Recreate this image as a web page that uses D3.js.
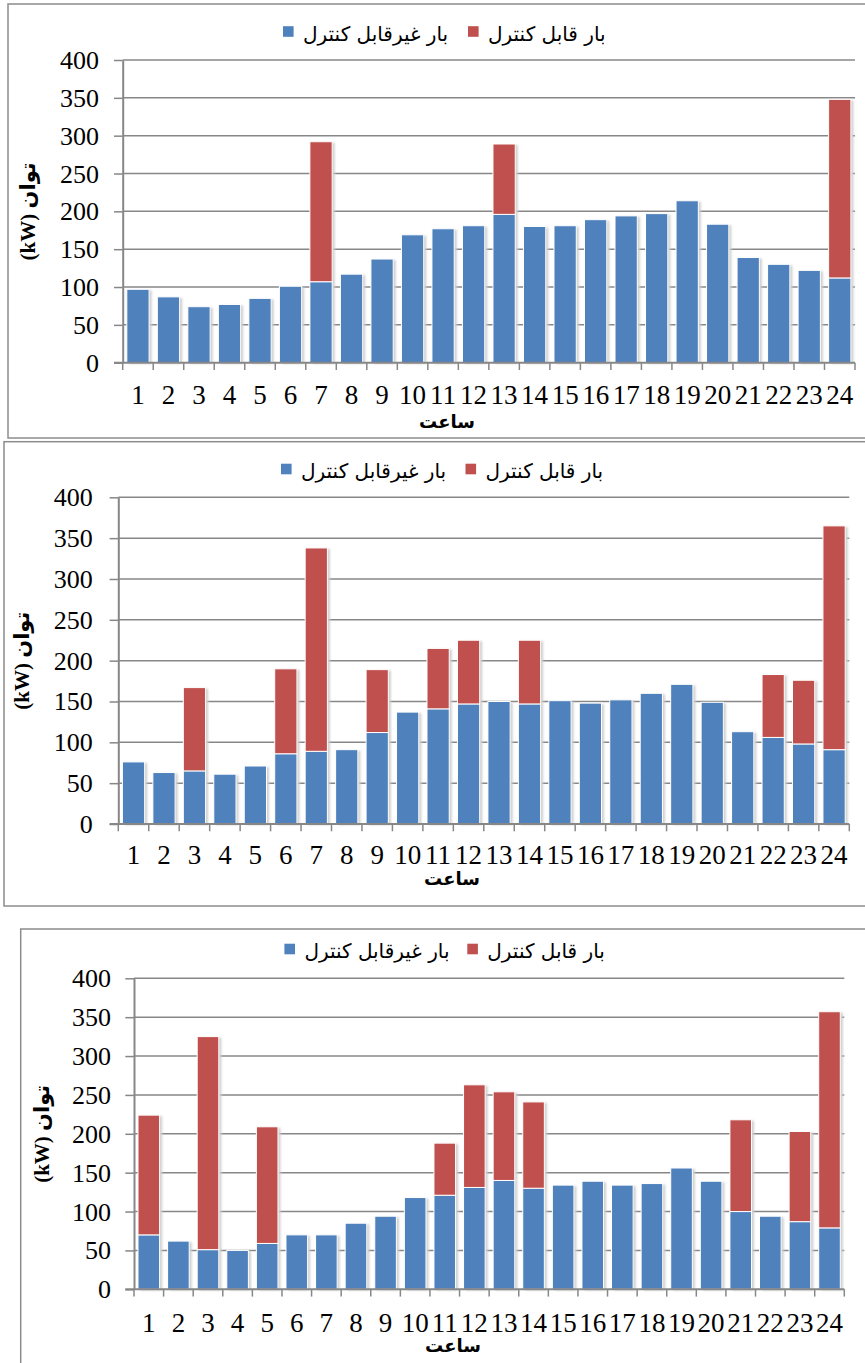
<!DOCTYPE html>
<html>
<head>
<meta charset="utf-8">
<script src="https://cdn.jsdelivr.net/npm/d3@7"></script>
<style>
  body { margin: 0; background: #fff; }
  svg { display: block; }
</style>
</head>
<body>
<script>
// Hours of the day (x categories)
const hours = [1, 2, 3, 4, 5, 6, 7, 8, 9, 10, 11, 12, 13, 14, 15, 16, 17, 18, 19, 20, 21, 22, 23, 24];
const yTickValues = [0, 50, 100, 150, 200, 250, 300, 350, 400];

const seriesNames = ["بار غیرقابل کنترل", "بار قابل کنترل"];
const yTitle = "(kW) توان";
const xTitle = "ساعت";

// Scenario 1 (kW)
const uncontrolled1 = [97, 87, 74, 77, 85, 101, 107, 117, 137, 169, 177, 181, 196, 180, 181, 189, 194, 197, 214, 183, 139, 130, 122, 112];
const controlled1   = [0, 0, 0, 0, 0, 0, 185, 0, 0, 0, 0, 0, 93, 0, 0, 0, 0, 0, 0, 0, 0, 0, 0, 236];

// Scenario 2 (kW)
const uncontrolled2 = [76, 63, 65, 61, 71, 86, 89, 91, 112, 137, 141, 147, 150, 147, 151, 148, 152, 160, 171, 149, 113, 106, 98, 91];
const controlled2   = [0, 0, 102, 0, 0, 104, 249, 0, 77, 0, 74, 78, 0, 78, 0, 0, 0, 0, 0, 0, 0, 77, 78, 274];

// Scenario 3 (kW)
const uncontrolled3 = [70, 62, 51, 50, 59, 70, 70, 85, 94, 118, 121, 131, 140, 130, 134, 139, 134, 136, 156, 139, 100, 94, 87, 79];
const controlled3   = [154, 0, 274, 0, 150, 0, 0, 0, 0, 0, 67, 132, 114, 111, 0, 0, 0, 0, 0, 0, 118, 0, 116, 278];

const colors = ["#4F81BD", "#C0504D"];
const gridColor = "#878787";
const numFont = "'Liberation Serif', 'Times New Roman', serif";
const arFont = "'DejaVu Sans', sans-serif";

const W = 865, H = 1363;
const svg = d3.select("body").append("svg").attr("width", W).attr("height", H);

const defs = svg.append("defs");
defs.append("filter").attr("id", "shade")
  .attr("x", "-20%").attr("y", "-5%").attr("width", "140%").attr("height", "110%")
  .append("feGaussianBlur").attr("stdDeviation", 1.1);

const panels = [
  {
    base: uncontrolled1, extra: controlled1,
    frame: { x: 8, y: 4, w: 900, h: 434 },
    plot: { left: 122.7, right: 855, top: 60, bottom: 362.7 },
    yLabelEnd: 99, xLabelBase: 404, xTitleX: 447, xTitleY: 428, yTitleX: 27.5,
    legendY: 31.5, legendX: [283, 468]
  },
  {
    base: uncontrolled2, extra: controlled2,
    frame: { x: 4, y: 441.7, w: 900, h: 464.3 },
    plot: { left: 118.3, right: 849.3, top: 497.3, bottom: 824 },
    yLabelEnd: 92.7, xLabelBase: 864, xTitleX: 452, xTitleY: 885, yTitleX: 21.7,
    legendY: 469, legendX: [281, 465.5]
  },
  {
    base: uncontrolled3, extra: controlled3,
    frame: { x: 20.7, y: 929, w: 900, h: 600 },
    plot: { left: 134, right: 844.3, top: 978.3, bottom: 1289.3 },
    yLabelEnd: 111, xLabelBase: 1331.7, xTitleX: 453, xTitleY: 1352, yTitleX: 41.7,
    legendY: 949, legendX: [284.4, 467.3]
  }
];

panels.forEach(p => {
  const g = svg.append("g");

  // chart frame
  g.append("rect")
    .attr("x", p.frame.x).attr("y", p.frame.y)
    .attr("width", p.frame.w).attr("height", p.frame.h)
    .attr("fill", "none").attr("stroke", "#8c8c8c").attr("stroke-width", 1.5);

  const x = d3.scaleBand().domain(hours)
    .range([p.plot.left, p.plot.right])
    .paddingInner(0.27).paddingOuter(0.135);
  const y = d3.scaleLinear().domain([0, 400]).range([p.plot.bottom, p.plot.top]);

  // horizontal gridlines
  g.append("g").selectAll("line").data(yTickValues.filter(v => v > 0)).join("line")
    .attr("x1", p.plot.left).attr("x2", p.plot.right)
    .attr("y1", d => y(d)).attr("y2", d => y(d))
    .attr("stroke", gridColor).attr("stroke-width", 1.5);

  // stacked data
  const rows = hours.map((h, i) => ({ hour: h, base: p.base[i], extra: p.extra[i] }));
  const stack = d3.stack().keys(["base", "extra"])(rows);

  // soft shadows behind the bars
  const shadow = g.append("g").attr("filter", "url(#shade)");
  shadow.selectAll("rect").data(rows).join("rect")
    .attr("x", d => x(d.hour) + 2.5)
    .attr("y", d => y(d.base + d.extra) + 1)
    .attr("width", x.bandwidth())
    .attr("height", d => y(0) - y(d.base + d.extra))
    .attr("fill", "#cfcfcf");

  stack.forEach((layer, k) => {
    g.append("g").selectAll("rect").data(layer.filter(d => d[1] > d[0])).join("rect")
      .attr("x", d => x(d.data.hour))
      .attr("y", d => y(d[1]))
      .attr("width", x.bandwidth())
      .attr("height", d => y(d[0]) - y(d[1]))
      .attr("fill", colors[k])
      .attr("stroke", "#ffffff").attr("stroke-width", 1);
  });

  // y axis
  const yAxis = d3.axisLeft(y).tickValues(yTickValues).tickSize(8.7).tickPadding(0).tickSizeOuter(0);
  const ya = g.append("g").attr("transform", `translate(${p.plot.left},0)`).call(yAxis);
  ya.select(".domain").attr("stroke", gridColor).attr("stroke-width", 2);
  ya.selectAll(".tick line").attr("stroke", gridColor).attr("stroke-width", 1.5);
  ya.selectAll(".tick text")
    .attr("x", p.yLabelEnd - p.plot.left).attr("dy", null).attr("y", 8.5)
    .attr("font-family", numFont).attr("font-size", 26).attr("fill", "#000");

  // x axis line and boundary ticks
  const half = (x.step() - x.bandwidth()) / 2;
  const bounds = hours.map(h => x(h) - half).concat([x(hours[hours.length - 1]) + x.bandwidth() + half]);
  g.append("line")
    .attr("x1", p.plot.left - 8.7).attr("x2", p.plot.right)
    .attr("y1", y(0)).attr("y2", y(0))
    .attr("stroke", gridColor).attr("stroke-width", 2);
  g.append("g").selectAll("line").data(bounds).join("line")
    .attr("x1", d => d).attr("x2", d => d)
    .attr("y1", y(0)).attr("y2", y(0) + 7.3)
    .attr("stroke", gridColor).attr("stroke-width", 1.5);

  // hour labels
  g.append("g").selectAll("text").data(hours).join("text")
    .attr("x", d => x(d) + x.bandwidth() / 2)
    .attr("y", p.xLabelBase)
    .attr("text-anchor", "middle")
    .attr("font-family", numFont).attr("font-size", 27)
    .text(d => d);

  // axis titles
  g.append("text")
    .attr("x", p.xTitleX).attr("y", p.xTitleY)
    .attr("text-anchor", "middle")
    .attr("font-family", arFont).attr("font-weight", "bold").attr("font-size", 18)
    .text(xTitle);

  const yMid = (p.plot.top + p.plot.bottom) / 2;
  g.append("text")
    .attr("transform", `translate(${p.yTitleX + 7},${yMid}) rotate(-90)`)
    .attr("text-anchor", "middle")
    .attr("font-family", "'Liberation Serif', 'DejaVu Sans', serif")
    .attr("font-weight", "bold").attr("font-size", 21)
    .text(yTitle);

  // legend
  seriesNames.forEach((name, k) => {
    g.append("rect")
      .attr("x", p.legendX[k]).attr("y", p.legendY - 5.3)
      .attr("width", 10.6).attr("height", 10.6)
      .attr("fill", colors[k]);
    g.append("text")
      .attr("x", p.legendX[k] + 20).attr("y", p.legendY + 9)
      .attr("text-anchor", "start")
      .attr("font-family", arFont).attr("font-size", 20)
      .text(name);
  });
});
</script>
</body>
</html>
